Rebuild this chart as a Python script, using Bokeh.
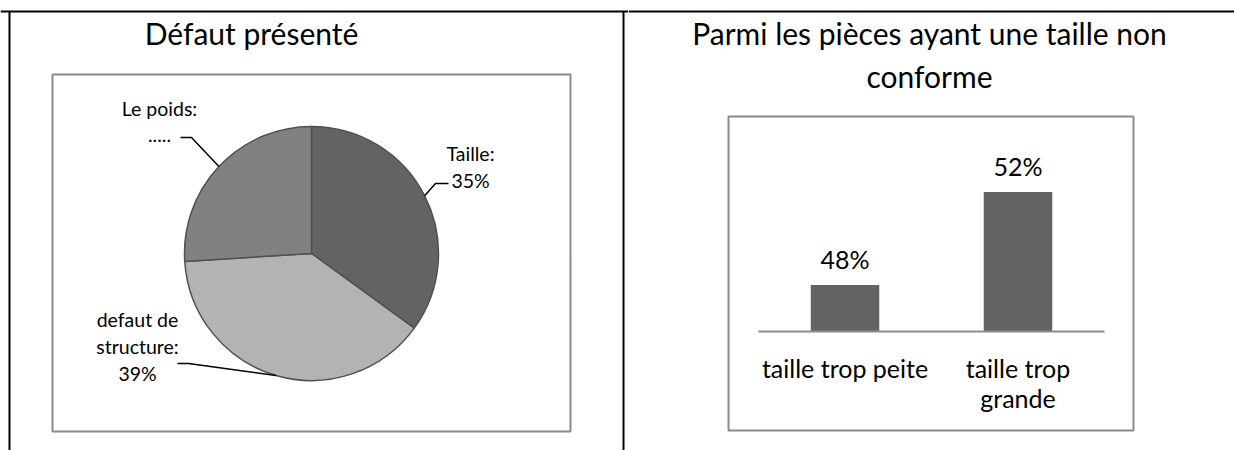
import numpy as np
from bokeh.plotting import figure
from bokeh.models import ColumnDataSource, Range1d, FactorRange
from bokeh.layouts import row
from bokeh.core.properties import value
from bokeh.embed import file_html
from bokeh.resources import INLINE

# ---------------- data ----------------
pie_title = "Défaut présenté"
pie_categories = ["Taille", "defaut de structure", "Le poids"]
pie_values = [35, 39, 26]
pie_label_texts = ["Taille:\n35%", "defaut de\nstructure:\n39%", "Le poids:\n....."]

bar_title = "Parmi les pièces ayant une taille non\nconforme"
bar_categories = ["taille trop peite", "taille trop grande"]
bar_tick_labels = ["taille trop peite", "taille trop\ngrande"]
bar_values = [48, 52]
bar_value_labels = ["48%", "52%"]
bar_axis_floor = 46

# ---------------- style ----------------
FONT = value("Lato")
W_L, W_R, H = 628, 606, 450
X0, Y0 = 0, 0                      # data coords == page pixels
TITLE_SIZE = "30px"
LABEL_SIZE = "25px"
PIE_LABEL_SIZE = "19.5px"
PIE_COLORS = ["#636363", "#b3b3b3", "#818181"]
PIE_CX, PIE_CY, PIE_R = 311, 253, 127
PIE_LABEL_POS = [(470, 166), (137, 346), (159, 121)]
PIE_LABEL_SPACING = 27
PIE_ELBOWS = [((435, 183), (448, 183)), ((188, 363), (177, 363)), ((191, 137), (180, 137))]
FRAME_COLOR = "#8a8a8a"
BAR_COLOR = "#636363"
PX_PER_PCT = 23.25
BASELINE_Y = 331
CAT_UNIT_PX = 173.0


def base_fig(width, x_range):
    p = figure(width=width, height=H,
               x_range=x_range, y_range=Range1d(Y0 + H, Y0),
               output_backend="svg", toolbar_location=None,
               x_axis_location=None, y_axis_location=None,
               min_border=0, min_border_left=0, min_border_right=0,
               min_border_top=0, min_border_bottom=0,
               outline_line_color=None, background_fill_color="white",
               border_fill_color="white")
    p.xgrid.visible = False
    p.ygrid.visible = False
    return p


def expand_lines(texts, positions, spacing):
    xs, ys, ts = [], [], []
    for t, (x, y) in zip(texts, positions):
        lines = t.split("\n")
        n = len(lines)
        for i, ln in enumerate(lines):
            xs.append(x)
            ys.append(y + (i - (n - 1) / 2) * spacing)
            ts.append(ln)
    return xs, ys, ts


# ---------------- left cell: pie ----------------
left = base_fig(W_L, Range1d(X0, X0 + W_L))

# table borders (top, left, middle divider)
left.segment(x0=[X0, 9, 623], y0=[11, 11, 11], x1=[X0 + W_L, 9, 623], y1=[11, 460, 460],
             line_color="black", line_width=2)
# chart frame
left.quad(left=[52], right=[570], top=[74], bottom=[431], fill_color=None,
          line_color=FRAME_COLOR, line_width=2)

fr = np.array(pie_values, dtype=float) / sum(pie_values)
cum = np.concatenate([[0.0], np.cumsum(fr)])
start = np.pi / 2 - cum[1:] * 2 * np.pi
end = np.pi / 2 - cum[:-1] * 2 * np.pi
mid = (start + end) / 2
pie_src = ColumnDataSource(dict(cat=pie_categories, start=start, end=end, color=PIE_COLORS))
left.wedge(x=PIE_CX, y=PIE_CY, radius=PIE_R, start_angle="start", end_angle="end",
           fill_color="color", line_color="#505050", line_width=1.5, source=pie_src)

# leader lines from slice mid-angle edge
lxs, lys = [], []
for m, (elb, endp) in zip(mid, PIE_ELBOWS):
    ex = PIE_CX + PIE_R * np.cos(m)
    ey = PIE_CY - PIE_R * np.sin(m)
    lxs.append([ex, elb[0], endp[0]])
    lys.append([ey, elb[1], endp[1]])
left.multi_line(xs=lxs, ys=lys, line_color="black", line_width=1.5)

px, py, pt = expand_lines(pie_label_texts, PIE_LABEL_POS, PIE_LABEL_SPACING)
left.text(x=px, y=py, text=pt, text_align="center", text_baseline="middle",
          text_font=FONT, text_font_size=PIE_LABEL_SIZE, text_color="black")

left.text(x=[251], y=[32], text=[pie_title], text_align="center", text_baseline="middle",
          text_font=FONT, text_font_size=TITLE_SIZE, text_color="black")

# ---------------- right cell: bars ----------------
RX0 = X0 + W_L
n_cat = len(bar_categories)
pad = (W_R / CAT_UNIT_PX - n_cat) / 2          # synthetic units on each side
cat_range = FactorRange(factors=bar_categories, range_padding=2 * pad / n_cat,
                        range_padding_units="percent")
right = base_fig(W_R, cat_range)


def px2syn(x):
    """page pixel x -> synthetic categorical coordinate of the right figure"""
    return -pad + (np.asarray(x, dtype=float) - RX0) / CAT_UNIT_PX


right.segment(x0=[px2syn(RX0)], y0=[11], x1=[px2syn(RX0 + W_R)], y1=[11],
              line_color="black", line_width=2)
right.quad(left=[px2syn(728)], right=[px2syn(1133)], top=[116], bottom=[430], fill_color=None,
           line_color=FRAME_COLOR, line_width=2)

tx, ty, tt = expand_lines([bar_title], [(929, 53.5)], 43)
right.text(x=list(px2syn(tx)), y=ty, text=tt, text_align="center", text_baseline="middle",
           text_font=FONT, text_font_size=TITLE_SIZE, text_color="black")

y_lo = bar_axis_floor - (Y0 + H - BASELINE_Y) / PX_PER_PCT
y_hi = bar_axis_floor + (BASELINE_Y - Y0) / PX_PER_PCT
right.extra_y_ranges = {"pct": Range1d(y_lo, y_hi)}

bar_src = ColumnDataSource(dict(cat=bar_categories, val=bar_values, lab=bar_value_labels,
                                tick=bar_tick_labels))
right.vbar(x="cat", top="val", bottom=bar_axis_floor, width=0.396, source=bar_src,
           y_range_name="pct", fill_color=BAR_COLOR, line_color=None)
right.segment(x0=[0], x1=[n_cat], y0=[bar_axis_floor], y1=[bar_axis_floor],
              y_range_name="pct", line_color="#8c8c8c", line_width=2)
right.text(x="cat", y="val", text="lab", source=bar_src, y_range_name="pct",
           y_offset=-26, text_align="center", text_baseline="middle",
           text_font=FONT, text_font_size=LABEL_SIZE, text_color="black")

cx, cy, ct = [], [], []
for c, t in zip(bar_categories, bar_tick_labels):
    for i, ln in enumerate(t.split("\n")):
        cx.append(c)
        cy.append(367 + i * 30)
        ct.append(ln)
right.text(x=cx, y=cy, text=ct, text_align="center", text_baseline="middle",
           text_font=FONT, text_font_size=LABEL_SIZE, text_color="black")

layout = row(left, right, spacing=0)
open("out.html", "w").write(file_html(layout, INLINE))
